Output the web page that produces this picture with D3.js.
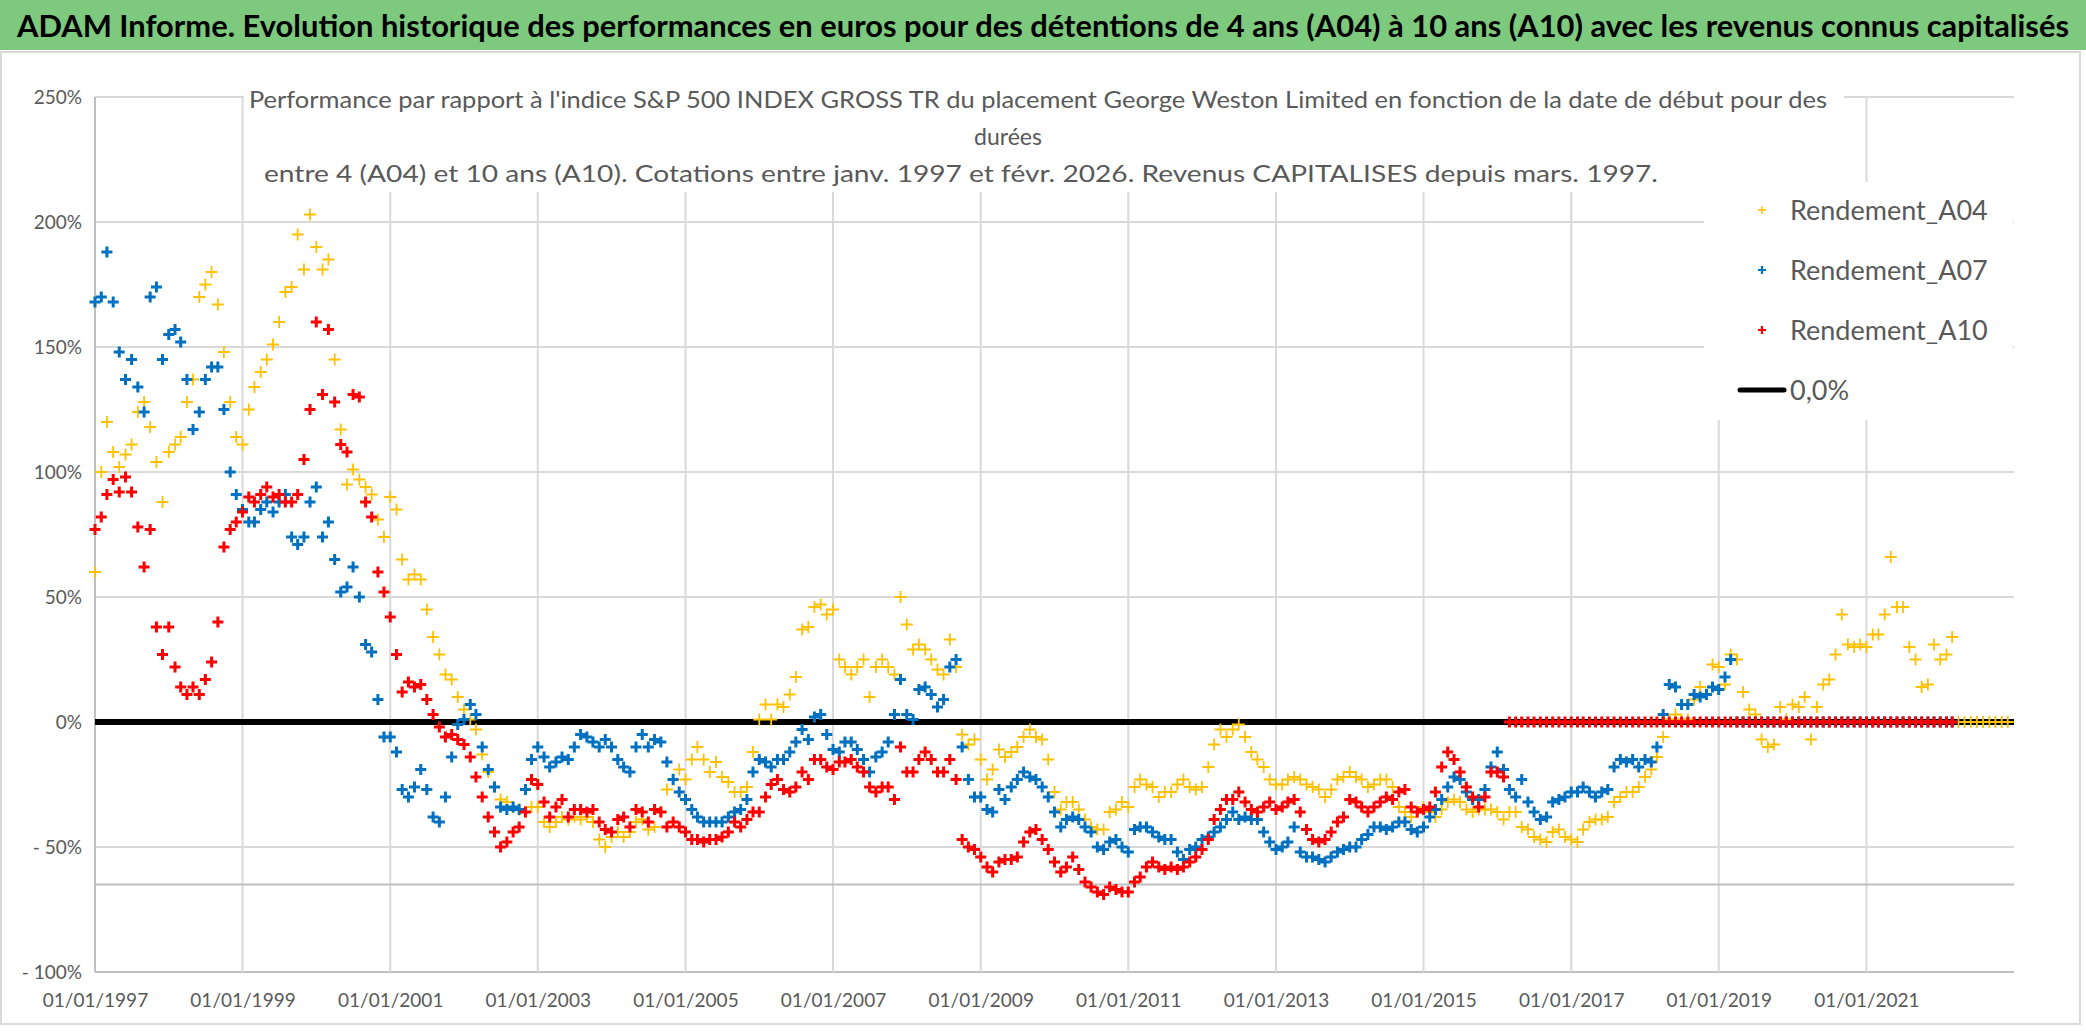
<!DOCTYPE html>
<html>
<head>
<meta charset="utf-8">
<script src="https://cdnjs.cloudflare.com/ajax/libs/d3/7.8.5/d3.min.js"></script>
<style>
  body { margin: 0; background: #fff; }
  text { font-family: Lato, "Open Sans", sans-serif; }
</style>
</head>
<body>
<div id="chart"></div>
<script>
// monthly readings, starting January 1997 (values in %)
var startDate = new Date(1997, 0, 1);

var rendementA04 = [
  60,100,120,108,102,107,111,124,128,118,104,88,
  108,111,114,128,137,170,175,180,167,148,128,114,
  111,125,134,140,145,151,160,172,174,195,181,203,
  190,181,185,145,117,95,101,97,94,91,81,74,
  90,85,65,57,59,57,45,34,27,19,17,10,
  5,1,-3,-13,-20,-26,-31,-32,-34,-35,-36,-34,
  -34,-40,-42,-40,-38,-39,-38,-39,-38,-40,-47,-50,
  -46,-44,-46,-44,-40,-39,-43,-42,-36,-27,-23,-19,
  -23,-15,-10,-15,-20,-16,-22,-24,-28,-28,-26,-12,
  1,7,1,7,6,11,18,37,38,46,47,43,
  45,25,22,19,22,25,10,22,25,22,19,50,
  39,29,31,29,25,21,19,33,22,-5,-9,-7,
  -15,-23,-19,-11,-14,-12,-10,-6,-3,-6,-7,-15,
  -28,-35,-32,-32,-35,-39,-42,-43,-43,-36,-35,-32,
  -34,-26,-23,-25,-26,-30,-28,-28,-25,-23,-26,-27,
  -26,-18,-9,-3,-6,-3,-1,-6,-12,-15,-18,-23,
  -25,-25,-23,-22,-23,-25,-26,-27,-30,-27,-23,-22,
  -20,-22,-23,-26,-25,-23,-23,-26,-34,-36,-38,-36,
  -34,-36,-38,-35,-32,-31,-32,-35,-36,-35,-35,-35,
  -36,-39,-36,-36,-42,-43,-46,-47,-48,-44,-43,-46,
  -47,-48,-43,-40,-39,-39,-38,-32,-30,-28,-28,-26,
  -22,-19,-14,-6,1,3,1,1,9,14,11,23,
  22,15,27,25,12,5,3,-7,-10,-9,6,1,
  7,6,10,-7,6,15,17,27,43,31,30,31,
  30,35,35,43,66,46,46,30,25,14,15,31,
  25,27,34
];
var rendementA07 = [
  168,170,188,168,148,137,145,134,124,170,174,145,
  155,157,152,137,117,124,137,142,142,125,100,91,
  85,80,80,85,88,84,88,91,74,71,74,88,
  94,74,80,65,52,54,62,50,31,28,9,-6,
  -6,-12,-27,-30,-26,-19,-27,-38,-40,-30,-14,-1,
  1,7,3,-10,-19,-26,-34,-35,-34,-35,-27,-15,
  -10,-14,-18,-16,-14,-15,-10,-5,-6,-8,-10,-7,
  -10,-15,-18,-20,-10,-5,-10,-7,-8,-16,-23,-28,
  -31,-35,-38,-40,-40,-40,-40,-38,-36,-35,-31,-20,
  -15,-16,-18,-15,-15,-12,-8,-3,-7,2,3,-5,
  -11,-12,-8,-8,-11,-15,-20,-14,-12,-8,3,17,
  3,1,13,14,11,6,9,22,25,-10,-23,-30,
  -30,-35,-36,-27,-31,-26,-23,-20,-22,-23,-26,-30,
  -36,-42,-39,-38,-39,-42,-44,-50,-51,-48,-47,-50,
  -52,-43,-42,-42,-44,-46,-47,-47,-52,-55,-51,-50,
  -47,-46,-44,-42,-39,-36,-39,-38,-39,-39,-44,-48,
  -51,-50,-48,-42,-52,-54,-54,-55,-56,-54,-52,-51,
  -50,-50,-47,-45,-42,-42,-43,-42,-40,-40,-43,-44,
  -42,-38,-35,-31,-26,-22,-23,-28,-31,-31,-27,-18,
  -12,-19,-27,-30,-23,-32,-36,-39,-38,-32,-31,-30,
  -28,-28,-26,-28,-30,-28,-27,-18,-15,-16,-15,-18,
  -15,-16,-10,3,15,14,7,7,11,10,11,14,
  13,18,25
];
var rendementA10 = [
  77,82,91,97,92,98,92,78,62,77,38,27,
  38,22,14,11,14,11,17,24,40,70,77,80,
  84,90,88,91,94,90,91,88,88,91,105,125,
  160,131,157,128,111,108,131,130,88,82,60,52,
  42,27,12,16,14,15,9,3,-2,-6,-5,-7,
  -9,-14,-22,-30,-38,-44,-50,-48,-44,-42,-36,-23,
  -25,-32,-38,-34,-31,-38,-35,-35,-36,-35,-40,-43,
  -44,-39,-38,-42,-35,-36,-40,-35,-36,-42,-40,-42,
  -44,-47,-47,-48,-47,-47,-46,-44,-40,-42,-39,-36,
  -36,-30,-25,-23,-27,-28,-26,-20,-23,-15,-15,-18,
  -19,-16,-16,-15,-18,-20,-26,-28,-26,-26,-31,-10,
  -20,-20,-15,-12,-15,-20,-20,-15,-23,-47,-50,-51,
  -54,-58,-60,-56,-55,-55,-54,-48,-44,-43,-47,-51,
  -56,-60,-58,-54,-59,-64,-66,-68,-69,-66,-67,-68,
  -68,-64,-62,-58,-56,-58,-59,-58,-59,-58,-56,-54,
  -51,-47,-39,-35,-31,-31,-28,-32,-35,-36,-34,-32,
  -35,-34,-32,-31,-36,-43,-47,-48,-47,-44,-40,-38,
  -31,-32,-34,-36,-34,-32,-30,-31,-28,-27,-34,-36,
  -35,-34,-28,-18,-12,-15,-20,-26,-30,-34,-30,-20,
  -20,-22
];
// months at 0% once the holding period runs past the last quote
var zeroMonthsA04 = 9, zeroMonthsA07 = 36, zeroMonthsA10 = 73;

var yTicks = [250, 200, 150, 100, 50, 0, -50, -100];
var xTickYears = [1997, 1999, 2001, 2003, 2005, 2007, 2009, 2011, 2013, 2015, 2017, 2019, 2021];
var seriesNames = ["Rendement_A04", "Rendement_A07", "Rendement_A10"];
var seriesColors = ["#FFC000", "#0070C0", "#FF0000"];

var titre = "ADAM Informe. Evolution historique des performances en euros pour des détentions de 4 ans (A04) à 10 ans (A10) avec les revenus connus capitalisés";
var sousTitre = [
  "Performance par rapport à l'indice S&P 500 INDEX GROSS TR  du placement George Weston Limited en fonction de la date de début pour des",
  "durées",
  "entre 4 (A04) et 10 ans (A10). Cotations entre janv. 1997 et févr. 2026. Revenus CAPITALISES depuis mars. 1997."
];

function toPoints(vals, zeros) {
  return vals.concat(new Array(zeros).fill(0)).map(function(v, i) {
    return { date: d3.timeMonth.offset(startDate, i), value: v };
  });
}
var series = [
  toPoints(rendementA04, zeroMonthsA04),
  toPoints(rendementA07, zeroMonthsA07),
  toPoints(rendementA10, zeroMonthsA10)
];

var W = 2086, H = 1031;
var svg = d3.select("#chart").append("svg").attr("width", W).attr("height", H);

svg.append("rect").attr("width", W).attr("height", H).attr("fill", "#fff");

// chart border
svg.append("rect").attr("x", 1).attr("y", 52).attr("width", 2079).attr("height", 972)
  .attr("fill", "none").attr("stroke", "#d9d9d9").attr("stroke-width", 2);

// green title band
svg.append("rect").attr("x", 0).attr("y", 0).attr("width", W).attr("height", 50).attr("fill", "#7DC97D");
svg.append("text").attr("x", 1043).attr("y", 37).attr("text-anchor", "middle")
  .attr("font-size", 31).attr("font-weight", "bold").attr("fill", "#000")
  .attr("textLength", 2052).attr("lengthAdjust", "spacingAndGlyphs")
  .text(titre);

var x = d3.scaleTime()
  .domain([new Date(1997, 0, 1), new Date(2023, 0, 1)])
  .range([95, 2014]);
var y = d3.scaleLinear().domain([-100, 250]).range([972, 97]);

// gridlines
var grid = svg.append("g");
grid.selectAll(".hg").data(yTicks).enter().append("line")
  .attr("x1", x.range()[0]).attr("x2", x.range()[1])
  .attr("y1", function(d) { return y(d); }).attr("y2", function(d) { return y(d); })
  .attr("stroke", function(d) { return d == -100 ? "#bfbfbf" : "#d9d9d9"; })
  .attr("stroke-width", 2);
grid.selectAll(".vg").data(xTickYears).enter().append("line")
  .attr("x1", function(d) { return x(new Date(d, 0, 1)); })
  .attr("x2", function(d) { return x(new Date(d, 0, 1)); })
  .attr("y1", y(250)).attr("y2", y(-100))
  .attr("stroke", function(d, i) { return i == 0 ? "#bfbfbf" : "#d9d9d9"; })
  .attr("stroke-width", 2);
// horizontal axis line
svg.append("line").attr("x1", x.range()[0]).attr("x2", x.range()[1])
  .attr("y1", y(-65)).attr("y2", y(-65)).attr("stroke", "#bfbfbf").attr("stroke-width", 2);

// white boxes of subtitle and legend
svg.append("rect").attr("x", 244).attr("y", 84).attr("width", 1600).attr("height", 108).attr("fill", "#fff");
svg.append("rect").attr("x", 1704).attr("y", 182).attr("width", 309).attr("height", 238).attr("fill", "#fff");

// axis labels
var yAxis = d3.axisLeft(y).tickValues(yTicks).tickSize(0).tickPadding(13)
  .tickFormat(function(d) { return d < 0 ? "- " + (-d) + "%" : d + "%"; });
var gy = svg.append("g").attr("transform", "translate(95,0)").call(yAxis);
gy.select(".domain").remove();
gy.selectAll("text").attr("font-size", 19).attr("fill", "#595959").attr("font-family", "Lato");

var xAxis = d3.axisBottom(x).tickValues(xTickYears.map(function(d) { return new Date(d, 0, 1); }))
  .tickSize(0).tickPadding(22).tickFormat(d3.timeFormat("%d/%m/%Y"));
var gx = svg.append("g").attr("transform", "translate(0," + y(-100) + ")").call(xAxis);
gx.select(".domain").remove();
gx.selectAll("text").attr("font-size", 19).attr("fill", "#595959").attr("font-family", "Lato");

// 0,0% line
svg.append("line").attr("x1", x.range()[0]).attr("x2", x.range()[1])
  .attr("y1", y(0)).attr("y2", y(0)).attr("stroke", "#000").attr("stroke-width", 6);

// scatter series with "+" markers
var markSize = [6, 5.5, 5.5], markWidth = [1.8, 3, 3];
series.forEach(function(s, k) {
  svg.append("g").selectAll("path").data(s).enter().append("path")
    .attr("transform", function(d) { return "translate(" + x(d.date) + "," + y(d.value) + ")"; })
    .attr("d", "M" + (-markSize[k]) + ",0H" + markSize[k] + "M0," + (-markSize[k]) + "V" + markSize[k])
    .attr("stroke", seriesColors[k]).attr("stroke-width", markWidth[k]).attr("fill", "none");
});

// subtitle, three lines as wrapped in the original
var subX = [249, 1008, 264];
var subLen = [1578, null, 1394];
sousTitre.forEach(function(t, i) {
  var el = svg.append("text").attr("x", subX[i]).attr("y", 108 + i * 37)
    .attr("text-anchor", i == 1 ? "middle" : "start")
    .attr("font-size", 23).attr("fill", "#595959").text(t);
  if (subLen[i]) el.attr("textLength", subLen[i]).attr("lengthAdjust", "spacingAndGlyphs");
});

// legend
var legY = [210, 270, 330, 390];
seriesNames.forEach(function(n, i) {
  svg.append("path").attr("transform", "translate(1762," + legY[i] + ")")
    .attr("d", "M-4,0H4M0,-4V4").attr("stroke", seriesColors[i]).attr("stroke-width", i == 0 ? 1.4 : 2.2);
  svg.append("text").attr("x", 1790).attr("y", legY[i] + 10).attr("font-size", 27).attr("fill", "#595959").text(n);
});
svg.append("line").attr("x1", 1740).attr("x2", 1784).attr("y1", legY[3]).attr("y2", legY[3])
  .attr("stroke", "#000").attr("stroke-width", 5).attr("stroke-linecap", "round");
svg.append("text").attr("x", 1790).attr("y", legY[3] + 10).attr("font-size", 27).attr("fill", "#595959").text("0,0%");
</script>
</body>
</html>
